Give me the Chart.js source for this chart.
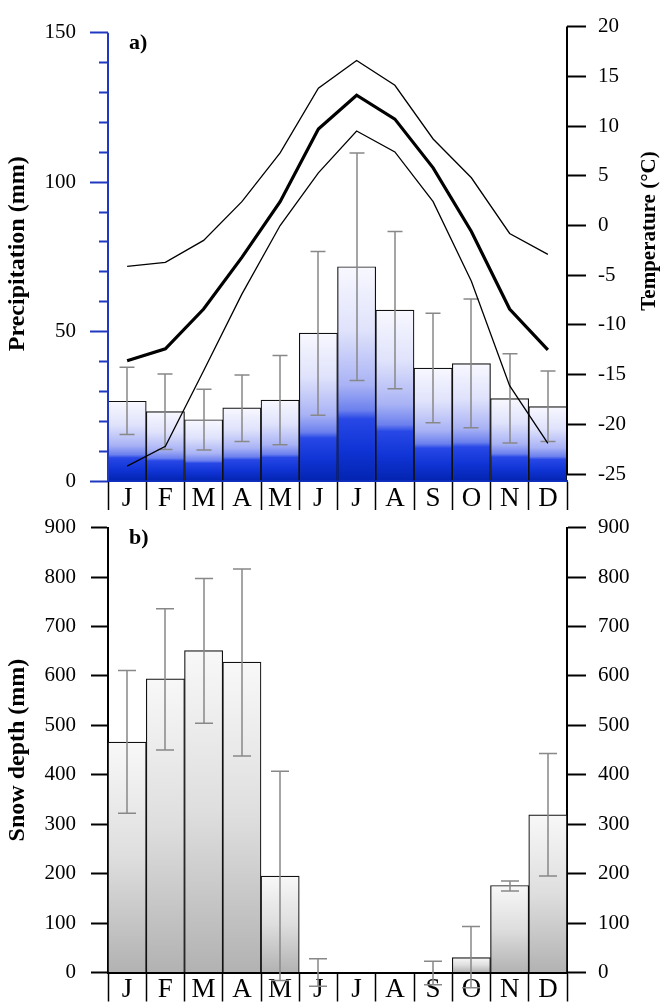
<!DOCTYPE html>
<html><head><meta charset="utf-8">
<script src="https://cdn.jsdelivr.net/npm/chart.js@4"></script>
<style>
html,body{margin:0;padding:0;background:#fff;width:665px;height:1003px;overflow:hidden;position:relative}
canvas{position:absolute;left:0}
#c1{top:0}
#c2{top:500px}
</style></head><body>
<canvas id="c1" width="665" height="512"></canvas>
<canvas id="c2" width="665" height="503"></canvas>
<script>
// ---------- data ----------
const months = ['J','F','M','A','M','J','J','A','S','O','N','D'];

const precip     = [26.7, 23.2, 20.5, 24.5, 27.1, 49.5, 71.7, 57.2, 37.8, 39.3, 27.6, 24.9];
const precipHigh = [38.1, 35.8, 30.7, 35.5, 42.0, 76.8, 109.8, 83.5, 56.1, 60.9, 42.6, 36.8];
const precipLow  = [15.6, 10.5, 10.4, 13.2, 12.1, 22.0, 33.6, 30.9, 19.5, 17.8, 12.7, 13.2];

const tempMax  = [-4.1, -3.7, -1.5, 2.4, 7.3, 13.8, 16.6, 14.1, 8.7, 4.8, -0.8, -2.9];
const tempMean = [-13.6, -12.4, -8.4, -3.2, 2.4, 9.7, 13.1, 10.7, 5.8, -0.6, -8.4, -12.5];
const tempMin  = [-24.2, -22.2, -14.6, -6.9, 0.0, 5.3, 9.5, 7.4, 2.4, -5.6, -16.1, -21.9];

const snow     = [466, 594, 651, 628, 195, 0, 0, 0, 0, 30, 176, 319];
const snowHigh = [611, 736, 797, 816, 407, 28, null, null, 23, 93, 185, 443];
const snowLow  = [322, 450, 504, 438, -16, -28, null, null, -25, -31, 165, 195];

const precipTicks = [0,10,20,30,40,50,60,70,80,90,100,110,120,130,140,150];
const precipMajor = [0,50,100,150];
const tempTicks = [-25,-22.5,-20,-17.5,-15,-12.5,-10,-7.5,-5,-2.5,0,2.5,5,7.5,10,12.5,15,17.5,20];
const tempMajor = [-25,-20,-15,-10,-5,0,5,10,15,20];
const snowTicks = [0,50,100,150,200,250,300,350,400,450,500,550,600,650,700,750,800,850,900];
const snowMajor = [0,100,200,300,400,500,600,700,800,900];

// ---------- helpers ----------
Chart.defaults.font.family = "'Liberation Serif', 'Times New Roman', serif";
Chart.defaults.color = '#000';
const BLUE_AXIS = '#2038c0';

function setTicks(list){ return (scale) => { scale.ticks = list.map(v => ({value: v})); }; }
function majorLabel(list){ return (v) => list.includes(v) ? String(v) : ''; }

function gradientFill(axisId, stops){
  return (c) => {
    const chart = c.chart;
    if (!chart.chartArea || c.type !== 'data') return stops[stops.length-1][1];
    const ys = chart.scales[axisId];
    const top = ys.getPixelForValue(c.raw);
    const bot = ys.getPixelForValue(0);
    if (!(bot - top > 0.5)) return stops[0][1];
    const g = chart.ctx.createLinearGradient(0, top, 0, bot);
    stops.forEach(s => g.addColorStop(s[0], s[1]));
    return g;
  };
}

function errorBarPlugin(id, dsIndex, axisId, low, high, cap, color, width){
  return {
    id: id,
    afterDatasetDraw(chart, args){
      if (args.index !== dsIndex) return;
      const ctx = chart.ctx, xs = chart.scales.x, ys = chart.scales[axisId];
      ctx.save();
      ctx.strokeStyle = color; ctx.lineWidth = width;
      low.forEach((lo, i) => {
        const hi = high[i];
        if (lo == null || hi == null) return;
        const x = Math.round(xs.getPixelForValue(i));
        const y1 = ys.getPixelForValue(hi), y2 = ys.getPixelForValue(lo);
        ctx.beginPath();
        ctx.moveTo(x, y1); ctx.lineTo(x, y2);
        ctx.moveTo(x - cap/2, y1); ctx.lineTo(x + cap/2, y1);
        ctx.moveTo(x - cap/2, y2); ctx.lineTo(x + cap/2, y2);
        ctx.stroke();
      });
      ctx.restore();
    }
  };
}

function textPlugin(id, items){
  return {
    id: id,
    afterDraw(chart){
      const ctx = chart.ctx, a = chart.chartArea;
      items.forEach(t => {
        ctx.save();
        ctx.font = t.font; ctx.fillStyle = '#000';
        ctx.textAlign = t.align || 'left'; ctx.textBaseline = 'middle';
        ctx.translate(t.x(a), t.y(a));
        if (t.rot) ctx.rotate(t.rot);
        ctx.fillText(t.text, 0, 0);
        ctx.restore();
      });
    }
  };
}

function axisLinePlugin(id, lines){
  return {
    id: id,
    afterDraw(chart){
      const ctx = chart.ctx;
      lines.forEach(l => {
        const s = chart.scales[l.axis];
        const x = l.side === 'left' ? s.right : s.left;
        ctx.save();
        ctx.strokeStyle = l.color; ctx.lineWidth = l.width;
        ctx.beginPath();
        ctx.moveTo(x, s.getPixelForValue(l.from));
        ctx.lineTo(x, s.getPixelForValue(l.to));
        ctx.stroke();
        ctx.restore();
      });
    }
  };
}

const blueStops = [[0,'#f8f8ff'],[0.3,'#dfe2fb'],[0.55,'#a9b3f5'],[0.67,'#6c80ee'],[0.71,'#2848e6'],[0.85,'#1034d6'],[1,'#0324b0']];
const greyStops = [[0,'#f8f8f8'],[0.5,'#dedede'],[1,'#b2b2b2']];

const monthAxis = (borderColor) => ({
  type: 'category',
  position: 'bottom',
  offset: true,
  afterFit: (s) => { s.height = 31; },
  grid: { display: true, drawOnChartArea: false, offset: true, tickLength: 29, tickColor: '#000', tickWidth: 1.5 },
  border: { display: true, color: borderColor, width: 2 },
  ticks: { padding: -25, autoSkip: false, maxRotation: 0, color: '#000', font: { size: 27, lineHeight: 1 } }
});

// ---------- top chart ----------
new Chart(document.getElementById('c1'), {
  type: 'bar',
  data: {
    labels: months,
    datasets: [
      { type: 'bar', data: precip, yAxisID: 'yP', order: 2,
        backgroundColor: gradientFill('yP', blueStops),
        borderColor: '#111', borderWidth: 1.2, borderSkipped: 'bottom',
        barPercentage: 1, categoryPercentage: 1 },
      { type: 'line', data: tempMax, yAxisID: 'yT', order: 1, borderColor: '#000', borderWidth: 1.3, pointRadius: 0, fill: false, tension: 0 },
      { type: 'line', data: tempMean, yAxisID: 'yT', order: 1, borderColor: '#000', borderWidth: 3.2, pointRadius: 0, fill: false, tension: 0 },
      { type: 'line', data: tempMin, yAxisID: 'yT', order: 1, borderColor: '#000', borderWidth: 1.3, pointRadius: 0, fill: false, tension: 0 }
    ]
  },
  options: {
    responsive: false, animation: false,
    layout: { padding: { top: 18, left: 0, right: 0, bottom: 0 } },
    plugins: { legend: { display: false }, tooltip: { enabled: false } },
    scales: {
      x: monthAxis('#1030c0'),
      yP: {
        type: 'linear', position: 'left', min: 0, max: 152.07,
        afterBuildTicks: setTicks(precipTicks),
        afterFit: (s) => { s.width = 108; },
        border: { display: false },
        grid: { drawOnChartArea: false, tickLength: 18, tickColor: BLUE_AXIS, tickWidth: 2,
          tickBorderDash: (c) => (c.tick && precipMajor.includes(c.tick.value)) ? [] : [0, 9, 9, 0] },
        ticks: { padding: 14, color: '#000', font: { size: 21 }, callback: majorLabel(precipMajor) },
        title: { display: true, text: 'Precipitation (mm)', color: '#000', font: { size: 24, weight: 'bold' }, padding: { top: 3, bottom: 0 } }
      },
      yT: {
        type: 'linear', position: 'right', min: -25.69, max: 20,
        afterBuildTicks: setTicks(tempTicks),
        afterFit: (s) => { s.width = 98; },
        border: { display: false },
        grid: { drawOnChartArea: false, tickLength: 19, tickColor: '#000', tickWidth: 2,
          tickBorderDash: (c) => (c.tick && tempMajor.includes(c.tick.value)) ? [] : [11, 40] },
        ticks: { padding: 12, color: '#000', font: { size: 21 }, callback: majorLabel(tempMajor) }
      }
    }
  },
  plugins: [
    errorBarPlugin('eb1', 0, 'yP', precipLow, precipHigh, 15, '#888888', 1.5),
    axisLinePlugin('al1', [
      { axis: 'yP', side: 'left', from: 0, to: 150, color: BLUE_AXIS, width: 2 },
      { axis: 'yT', side: 'right', from: -25, to: 20, color: '#000', width: 2 }
    ]),
    textPlugin('tx1', [
      { text: 'a)', font: "bold 22px 'Liberation Serif'", x: a => a.left + 21, y: a => a.top + 17 },
      { text: 'Temperature (°C)', font: "bold 21px 'Liberation Serif'", align: 'center', rot: -Math.PI/2, x: a => 650, y: a => 231 }
    ])
  ]
});

// ---------- bottom chart ----------
new Chart(document.getElementById('c2'), {
  type: 'bar',
  data: {
    labels: months,
    datasets: [
      { type: 'bar', data: snow, yAxisID: 'yS', order: 1,
        backgroundColor: gradientFill('yS', greyStops),
        borderColor: '#111', borderWidth: 1.2, borderSkipped: 'bottom',
        barPercentage: 1, categoryPercentage: 1 }
    ]
  },
  options: {
    responsive: false, animation: false,
    layout: { padding: { top: 15.5, left: 0, right: 0, bottom: 0 } },
    plugins: { legend: { display: false }, tooltip: { enabled: false } },
    scales: {
      x: Object.assign(monthAxis('#000'), { afterFit: (s) => { s.height = 30.5; } }),
      yS: {
        type: 'linear', position: 'left', min: 0, max: 900,
        afterBuildTicks: setTicks(snowTicks),
        afterFit: (s) => { s.width = 108; },
        border: { display: true, color: '#000', width: 2 },
        grid: { drawOnChartArea: false, tickLength: 17, tickColor: '#000', tickWidth: 2,
          tickBorderDash: (c) => (c.tick && snowMajor.includes(c.tick.value)) ? [] : [0, 8, 9, 0] },
        ticks: { padding: 15, color: '#000', font: { size: 21 }, callback: majorLabel(snowMajor) },
        title: { display: true, text: 'Snow depth (mm)', color: '#000', font: { size: 24, weight: 'bold' }, padding: { top: 3, bottom: 0 } }
      },
      yS2: {
        type: 'linear', position: 'right', min: 0, max: 900,
        afterBuildTicks: setTicks(snowTicks),
        afterFit: (s) => { s.width = 98; },
        border: { display: true, color: '#000', width: 2 },
        grid: { drawOnChartArea: false, tickLength: 19, tickColor: '#000', tickWidth: 2,
          tickBorderDash: (c) => (c.tick && snowMajor.includes(c.tick.value)) ? [] : [10, 40] },
        ticks: { padding: 12, color: '#000', font: { size: 21 }, callback: majorLabel(snowMajor) }
      }
    }
  },
  plugins: [
    errorBarPlugin('eb2', 0, 'yS', snowLow, snowHigh, 18, '#888888', 1.5),
    textPlugin('tx2', [
      { text: 'b)', font: "bold 22px 'Liberation Serif'", x: a => a.left + 21, y: a => a.top + 11 }
    ])
  ]
});
</script>
</body></html>
